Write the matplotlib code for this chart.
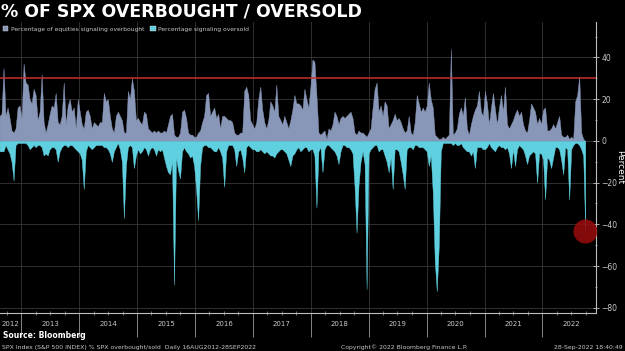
"""
% of SPX members signalling overbought / oversold, Bloomberg style dark chart.
"""

import matplotlib.pyplot as plt
import pandas as pd
from matplotlib import dates, ticker
from matplotlib.patches import Patch

START = "2012-08-16"
END = "2022-09-28"

# roughly one value every 12 days
overbought = [
    12, 13, 35, 12, 16, 11, 5, 4, 6, 16, 17, 11, 37, 28, 27, 20, 18, 25, 22, 10,
    14, 32, 9, 4, 8, 13, 17, 16, 23, 9, 8, 12, 28, 8, 17, 20, 14, 16, 6, 20,
    14, 8, 6, 14, 15, 12, 6, 9, 8, 7, 9, 9, 23, 19, 20, 12, 6, 4, 12, 14,
    12, 10, 4, 4,
    24, 20, 30, 24, 10, 11, 9, 8, 14, 13, 6, 5, 4, 5, 4, 5, 4, 4, 5, 4,
    8, 12, 13, 3, 2, 2, 4, 14, 15, 11, 4, 3, 3, 2, 2, 4, 5, 9, 12, 22,
    23, 12, 14, 16, 11, 13, 6, 12, 12, 11, 10, 10, 9, 4, 3, 3, 4, 4, 24,
    26, 22, 10, 8, 6, 9, 20, 26, 15, 9, 6, 10, 19, 17, 14, 27, 12, 10, 8, 12,
    9, 6, 10, 15, 22, 18, 18, 17, 15, 25, 20, 16, 26, 39, 38, 22, 4, 3, 4, 5,
    1, 6, 5, 8, 14, 12, 8, 11, 12, 11, 12, 13, 14, 11, 4, 3, 5, 4, 4, 3,
    2, 4, 6, 16, 25, 28, 14, 17, 12, 19, 17, 6, 8, 10, 13, 10, 11, 9, 6, 4,
    5, 12, 4, 3, 9, 22, 18, 14, 16, 14, 17, 28, 20, 16, 3, 2, 1, 1, 2, 1,
    2, 3, 44, 3, 4, 6, 13, 16, 12, 21, 6, 3, 8, 12, 15, 17, 24, 14, 12, 24,
    18, 8, 16, 23, 15, 8, 16, 22, 14, 26, 8, 6, 8, 10, 13, 15, 12, 14, 8, 5,
    4, 10, 18, 16, 14, 8, 11, 8, 15, 16, 5, 5, 6, 8, 6, 9, 12, 3, 2, 2,
    3, 1, 2, 1, 19, 22, 31, 4, 1, 0,
]
oversold = [
    -5, -5, -5, -2, -4, -6, -10, -19, -2, -1, -1, -1, -1, -1, -2, -4, -3, -2, -3, -2,
    -2, -3, -7, -6, -7, -4, -3, -3, -4, -10, -5, -3, -2, -2, -3, -2, -2, -3, -4, -5,
    -6, -9, -23, -5, -2, -3, -4, -3, -2, -2, -2, -2, -3, -3, -4, -6, -10, -5, -3, -1,
    -4, -10, -37, -12,
    -3, -2, -3, -13, -7, -4, -6, -5, -3, -4, -7, -4, -3, -4, -7, -4, -5, -4, -8, -12,
    -15, -16, -10, -69, -8, -14, -18, -5, -3, -5, -6, -8, -7, -12, -23, -38, -12, -3, -2, -2,
    -3, -3, -4, -5, -5, -3, -5, -8, -22, -5, -2, -2, -2, -4, -12, -5, -4, -8, -15,
    -3, -2, -3, -4, -4, -5, -5, -4, -5, -6, -5, -6, -7, -7, -8, -6, -5, -4, -4, -5,
    -6, -9, -12, -7, -6, -4, -3, -5, -4, -3, -3, -5, -4, -4, -7, -32, -5, -3, -15, -4,
    -2, -2, -3, -4, -5, -7, -11, -5, -2, -2, -3, -3, -4, -6, -22, -44, -21, -10, -5, -11,
    -71, -6, -4, -3, -2, -2, -5, -4, -4, -7, -10, -15, -8, -23, -4, -4, -5, -10, -16, -23,
    -4, -3, -3, -4, -2, -2, -3, -3, -3, -4, -5, -12, -7, -25, -58, -72, -50, -5, -1, -1,
    -1, -1, -1, -2, -1, -2, -2, -1, -3, -4, -5, -5, -7, -5, -13, -3, -3, -3, -4, -4,
    -3, -1, -3, -4, -5, -3, -2, -3, -3, -4, -3, -6, -13, -4, -12, -4, -2, -3, -4, -7,
    -11, -7, -6, -5, -6, -20, -6, -6, -9, -28, -8, -9, -13, -8, -3, -3, -4, -9, -16, -3,
    -4, -28, -4, -2, -1, -1, -2, -4, -7, -43,
]
threshold = 30
years = list(range(2012, 2023))
y_ticks = [-80, -60, -40, -20, 0, 20, 40]

OB_COLOR = "#8896b8"
OS_COLOR = "#5fd0df"
GRID_COLOR = "#363636"
TEXT_COLOR = "#c8c8c8"

days = pd.date_range(START, END, periods=len(overbought))

fig = plt.figure(figsize=(6.25, 3.51), dpi=100, facecolor="black")
ax = fig.add_axes([0.0, 0.1083, 0.9536, 0.829], facecolor="black")

ax.fill_between(days, 0, overbought, color=OB_COLOR, lw=0.3, zorder=3)
ax.fill_between(days, 0, oversold, color=OS_COLOR, lw=0.3, zorder=3)
ax.axhline(threshold, color="#c8302c", lw=1.1, zorder=4)
ax.scatter([days[-1]], [oversold[-1]], s=300, color="#9b0c0c", alpha=0.85, lw=0, zorder=5)

ax.set_xlim(pd.Timestamp("2012-08-19"), pd.Timestamp("2022-12-05"))
ax.set_ylim(-82.5, 57)

# right hand percent axis
ax.yaxis.tick_right()
ax.yaxis.set_label_position("right")
ax.set_yticks(y_ticks)
ax.yaxis.set_minor_locator(ticker.MultipleLocator(10))
ax.tick_params(axis="y", which="major", direction="inout", length=4, width=0.6,
               colors=TEXT_COLOR, labelsize=5.5, pad=2)
ax.tick_params(axis="y", which="minor", direction="inout", length=2, width=0.5, color=TEXT_COLOR)
ax.set_ylabel("Percent", color="white", fontsize=6.5, rotation=270, labelpad=5)

# year separators on the time axis, labels sit in the middle of each year
ax.set_xticks([pd.Timestamp(f"{y}-01-01") for y in years[1:]])
ax.set_xticklabels([])
ax.xaxis.set_minor_locator(dates.MonthLocator(bymonth=[4, 7, 10]))
ax.tick_params(axis="x", which="major", direction="out", length=17, width=0.6, color="#9a9a9a")
ax.tick_params(axis="x", which="minor", direction="inout", length=3, width=0.5, color="#9a9a9a")
mids = [pd.Timestamp("2012-10-25")] + [pd.Timestamp(f"{y}-07-02") for y in years[1:]]
sec = ax.secondary_xaxis("bottom")
sec.set_xticks(mids)
sec.set_xticklabels([str(y) for y in years])
sec.tick_params(length=0, labelsize=5, colors=TEXT_COLOR, pad=6)
sec.spines["bottom"].set_visible(False)

ax.grid(True, which="major", color=GRID_COLOR, lw=0.6, zorder=0)
for side in ["top", "left"]:
    ax.spines[side].set_visible(False)
for side in ["right", "bottom"]:
    ax.spines[side].set_color("#bdbdbd")
    ax.spines[side].set_linewidth(0.8)

handles = [
    Patch(facecolor=OB_COLOR, edgecolor="#dddddd", lw=0.3, label="Percentage of equities signaling overbought"),
    Patch(facecolor=OS_COLOR, edgecolor="#dddddd", lw=0.3, label="Percentage signaling oversold"),
]
ax.legend(handles=handles, loc="upper left", bbox_to_anchor=(-0.002, 1.0), ncol=2, frameon=False,
          fontsize=4.3, labelcolor=TEXT_COLOR, handlelength=0.9, handleheight=0.9,
          handletextpad=0.4, columnspacing=1.0, borderaxespad=0.3)

fig.text(0.001, 0.952, "% OF SPX OVERBOUGHT / OVERSOLD", color="white", fontsize=12.5,
         fontweight="bold", ha="left", va="baseline")
fig.text(0.005, 0.036, "Source: Bloomberg", color="white", fontsize=5.5, fontweight="bold")
fig.text(0.003, 0.006, "SPX Index (S&P 500 INDEX) % SPX overbought/sold  Daily 16AUG2012-28SEP2022",
         color=TEXT_COLOR, fontsize=4.4)
fig.text(0.545, 0.006, "Copyright\u00a9 2022 Bloomberg Finance L.P.", color=TEXT_COLOR, fontsize=4.4)
fig.text(0.996, 0.006, "28-Sep-2022 18:40:49", color=TEXT_COLOR, fontsize=4.4, ha="right")

fig.savefig("out.png", dpi=100, facecolor="black")
